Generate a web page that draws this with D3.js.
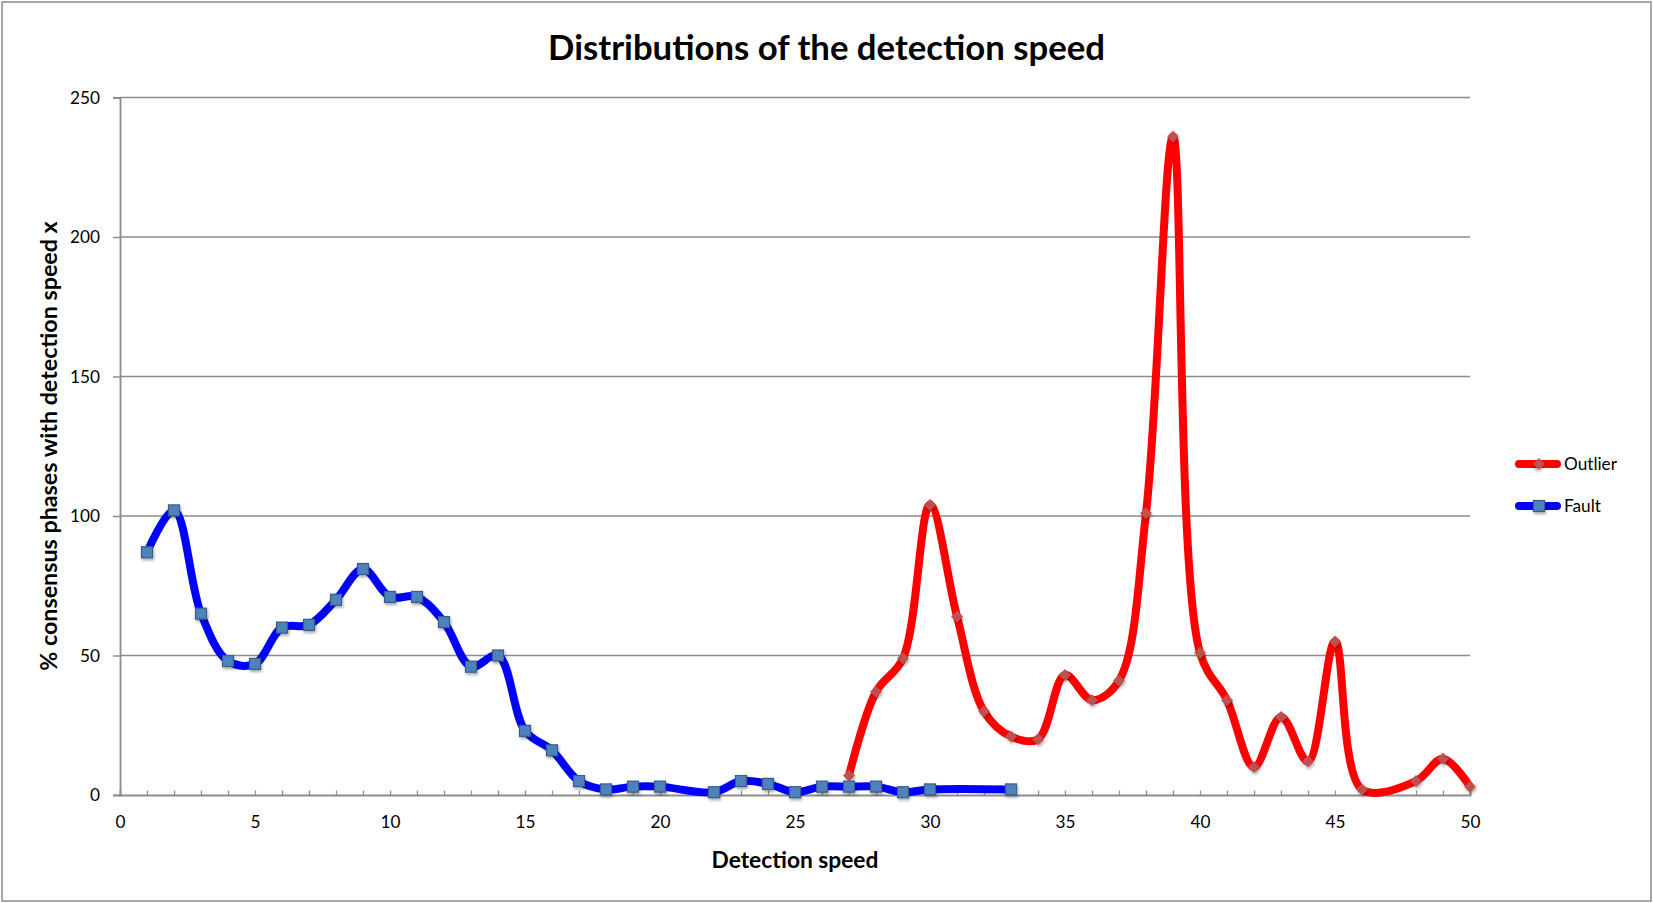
<!DOCTYPE html>
<html><head><meta charset="utf-8">
<script src="https://cdn.jsdelivr.net/npm/d3@7"></script>
<style>
html,body{margin:0;padding:0;background:#fff;}
svg{display:block;}
text{font-family:Lato,"Open Sans",sans-serif;fill:#000;}
</style></head><body>
<svg id="chart" width="1653" height="903"></svg>
<script>
// ---- data ----
const speeds = [1,2,3,4,5,6,7,8,9,10,11,12,13,14,15,16,17,18,19,20,21,22,23,24,25,
                26,27,28,29,30,31,32,33,34,35,36,37,38,39,40,41,42,43,44,45,46,47,48,49,50];
const faultValues = [87,102,65,48,47,60,61,70,81,71,71,62,46,50,23,16,5,2,3,3,null,1,5,4,1,
                     3,3,3,1,2,null,null,2,null,null,null,null,null,null,null,null,null,null,null,null,null,null,null,null,null];
const outlierValues = [null,null,null,null,null,null,null,null,null,null,null,null,null,null,null,null,null,null,null,null,null,null,null,null,null,
                       null,7,37,49,104,64,30,21,20,43,34,41,101,236,51,34,10,28,12,55,2,null,5,13,3];
const xTickLabels = [0,5,10,15,20,25,30,35,40,45,50];
const yTickLabels = [0,50,100,150,200,250];
const seriesNames = ["Outlier","Fault"];
const chartTitle = "Distributions of the detection speed";
const xTitle = "Detection speed";
const yTitle = "% consensus phases with detection speed x";

// ---- layout ----
const W = 1653, H = 903;
const plot = {left:120, right:1470, top:97.5, bottom:795};
const gridColor = "#8c8c8c";

const svg = d3.select("#chart");
const defs = svg.append("defs");
const f = defs.append("filter").attr("id","shadow").attr("x","-50%").attr("y","-50%").attr("width","200%").attr("height","200%");
f.append("feDropShadow").attr("dx",1).attr("dy",2).attr("stdDeviation",1.4).attr("flood-color","#000").attr("flood-opacity",0.35);

svg.append("rect").attr("x",2).attr("y",2).attr("width",W-4).attr("height",H-4)
   .attr("fill","#fff").attr("stroke","#8c8c8c").attr("stroke-width",1.5);

const x = d3.scaleLinear().domain([0,50]).range([plot.left, plot.right]);
const y = d3.scaleLinear().domain([0,250]).range([plot.bottom, plot.top]);

function fitWidth(sel, target){
  const w = sel.node().getComputedTextLength();
  const fs = parseFloat(sel.style("font-size"));
  sel.style("font-size", (fs*target/w)+"px");
  return fs*target/w;
}

// gridlines
svg.append("g").selectAll("line").data(yTickLabels.filter(v=>v>0)).join("line")
  .attr("x1",plot.left).attr("x2",plot.right)
  .attr("y1",d=>y(d)).attr("y2",d=>y(d))
  .attr("stroke",gridColor).attr("stroke-width",1.5);

// measure tick font size
const probe = svg.append("text").style("font-size","20px").text("250");
const tickFS = fitWidth(probe, 30);
probe.remove();

// y axis
const yAxis = svg.append("g").attr("transform",`translate(${plot.left},0)`)
  .call(d3.axisLeft(y).tickValues(yTickLabels).tickSize(7).tickPadding(13));
yAxis.select(".domain").attr("stroke",gridColor).attr("stroke-width",1.8);
yAxis.selectAll(".tick line").attr("stroke",gridColor).attr("stroke-width",1.5);
yAxis.selectAll(".tick text").style("font-size",tickFS+"px").style("font-family","Lato").attr("fill","#000");

// x axis minor ticks (inside, every unit)
const xMinor = svg.append("g").attr("transform",`translate(0,${plot.bottom})`)
  .call(d3.axisBottom(x).tickValues(d3.range(0,51)).tickSize(-4.5).tickFormat(""));
xMinor.select(".domain").attr("stroke",gridColor).attr("stroke-width",1.8);
xMinor.selectAll(".tick line").attr("stroke",gridColor).attr("stroke-width",1.3);

// x axis labels
const xLab = svg.append("g").attr("transform",`translate(0,${plot.bottom})`)
  .call(d3.axisBottom(x).tickValues(xTickLabels).tickSize(0).tickPadding(21));
xLab.select(".domain").remove();
xLab.selectAll(".tick text").style("font-size",tickFS+"px").style("font-family","Lato").attr("fill","#000");

// titles
const t = svg.append("text").attr("x",W/2).attr("y",60).attr("text-anchor","middle")
  .style("font-weight","bold").style("font-size","36px").text(chartTitle);
fitWidth(t, 557);

const xt = svg.append("text").attr("x",(plot.left+plot.right)/2).attr("y",868).attr("text-anchor","middle")
  .style("font-weight","bold").style("font-size","24px").text(xTitle);
fitWidth(xt, 167);

const yt = svg.append("text").attr("transform",`translate(57,446) rotate(-90)`).attr("text-anchor","middle")
  .style("font-weight","bold").style("font-size","24px").text(yTitle);
fitWidth(yt, 450);

// series
function pts(vals){ return speeds.map((s,i)=>({x:s, v:vals[i]})).filter(d=>d.v!==null); }
const line = d3.line().x(d=>x(d.x)).y(d=>y(d.v)).curve(d3.curveCatmullRom.alpha(0.5));

const outPts = pts(outlierValues), faultPts = pts(faultValues);

svg.append("path").datum(outPts).attr("d",line).attr("fill","none")
  .attr("stroke","#ff0000").attr("stroke-width",8).attr("stroke-linecap","round").attr("stroke-linejoin","round");
svg.append("g").attr("filter","url(#shadow)").selectAll("rect").data(outPts).join("rect")
  .attr("x",-4.2).attr("y",-4.2).attr("width",8.4).attr("height",8.4)
  .attr("transform",d=>`translate(${x(d.x)},${y(d.v)}) rotate(45)`)
  .attr("fill","#c0504d");

svg.append("path").datum(faultPts).attr("d",line).attr("fill","none")
  .attr("stroke","#0000ff").attr("stroke-width",8).attr("stroke-linecap","round").attr("stroke-linejoin","round");
svg.append("g").attr("filter","url(#shadow)").selectAll("rect").data(faultPts).join("rect")
  .attr("x",d=>x(d.x)-5.5).attr("y",d=>y(d.v)-5.5).attr("width",11).attr("height",11)
  .attr("fill","#4f81bd").attr("stroke","#385d8a").attr("stroke-width",1.2);

// legend
const legY = [464, 506];
const legColors = ["#ff0000","#0000ff"];
const leg = svg.append("g");
seriesNames.forEach((name,i)=>{
  leg.append("line").attr("x1",1519).attr("x2",1557).attr("y1",legY[i]).attr("y2",legY[i])
    .attr("stroke",legColors[i]).attr("stroke-width",8).attr("stroke-linecap","round");
  if(i===0){
    leg.append("rect").attr("x",-4.2).attr("y",-4.2).attr("width",8.4).attr("height",8.4)
      .attr("transform",`translate(1539,${legY[i]}) rotate(45)`).attr("fill","#c0504d").attr("filter","url(#shadow)");
  } else {
    leg.append("rect").attr("x",1539-5.5).attr("y",legY[i]-5.5).attr("width",11).attr("height",11)
      .attr("fill","#4f81bd").attr("stroke","#385d8a").attr("stroke-width",1.2).attr("filter","url(#shadow)");
  }
  leg.append("text").attr("x",1564).attr("y",legY[i]).attr("dy","0.35em")
    .style("font-size",tickFS+"px").text(name);
});
</script>
</body></html>
